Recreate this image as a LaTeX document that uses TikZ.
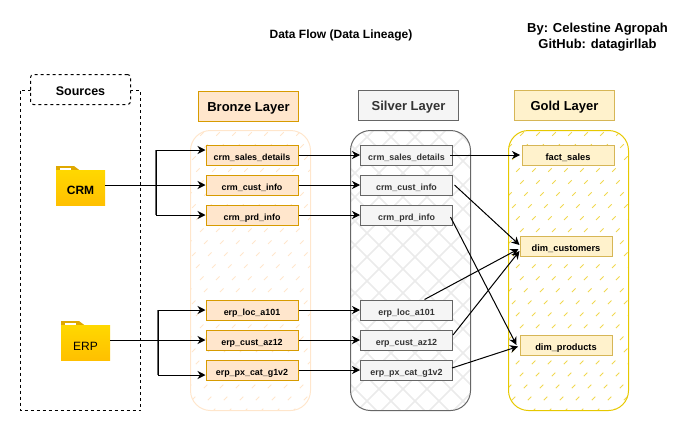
\documentclass[tikz,border=0pt]{standalone}
\usepackage{fontspec}
\setmainfont{Liberation Sans}
\usetikzlibrary{arrows.meta,calc}
\definecolor{brF}{HTML}{FFE6CC}\definecolor{brD}{HTML}{D79B00}
\definecolor{siF}{HTML}{F5F5F5}\definecolor{siD}{HTML}{666666}
\definecolor{goF}{HTML}{FFF2CC}\definecolor{goD}{HTML}{D6B656}
\definecolor{goC}{HTML}{E6C800}\definecolor{goH}{HTML}{F0D850}
\definecolor{siH}{HTML}{EBEBEB}\definecolor{siT}{HTML}{333333}
\definecolor{foT}{HTML}{FFD800}\definecolor{foB}{HTML}{FFC000}\definecolor{foD}{HTML}{DFA800}
\tikzset{
  every node/.style={font=\bfseries},
  lane/.style={rectangle,minimum width=120pt,minimum height=280pt,inner sep=0pt},
  head/.style={rectangle,draw,line width=1pt,minimum width=100pt,minimum height=30pt,inner sep=0pt,text height=10pt,text depth=0pt,font=\bfseries\fontsize{13}{15}\selectfont},
  tbl/.style={rectangle,draw,line width=1pt,minimum width=92pt,minimum height=20pt,inner sep=0pt,text height=10pt,text depth=0pt,font=\bfseries\fontsize{8.9}{10}\selectfont},
  bro/.style={tbl,fill=brF,draw=brD,text=black},
  sil/.style={tbl,fill=siF,draw=siD,text=siT},
  gol/.style={tbl,fill=goF,draw=goD,text=black,font=\bfseries\fontsize{9.3}{10}\selectfont},
  arr/.style={line width=1pt,-{Stealth[length=8pt,width=8pt,inset=2.5pt]}},
  folder/.style={rectangle,inner sep=0pt,minimum width=49pt,minimum height=35pt,top color=foT,bottom color=foB,text height=13pt,text depth=0pt,font=\bfseries\fontsize{12}{15}\selectfont},
}
\begin{document}
\begin{tikzpicture}[x=1pt,y=-1pt]
\useasboundingbox (0,0) rectangle (698,431);
\node[font=\bfseries\fontsize{12}{14}\selectfont] (title) at (341,35.5) {Data Flow (Data Lineage)};
\node[align=center,font=\bfseries\fontsize{13}{16.5}\selectfont] (by) at (597.5,37) {By: Celestine Agropah\\GitHub: datagirllab};
% Sources
\draw[line width=1pt,dash pattern=on 3pt off 3pt] (20.5,90.5) rectangle (140.5,410.5);
\node[rectangle,rounded corners=3pt,draw,line width=1pt,dash pattern=on 3pt off 3pt,fill=white,minimum width=100pt,minimum height=30pt,inner sep=0pt,text height=11pt,text depth=0pt,font=\bfseries\fontsize{12.5}{14}\selectfont] (src) at (80.5,89.5) {Sources};
% Lanes
\node[lane] (bl) at (250.5,270.5) {};
\begin{scope}
\clip[rounded corners=20pt] (190.5,130.5) rectangle (310.5,410.5);
\foreach \c in {320,336,...,740} \draw[brF,line width=1pt,dash pattern=on 5pt off 12pt] (\c,0)--(\c-450,450);
\end{scope}
\draw[brF,line width=1pt,rounded corners=20pt] (190.5,130.5) rectangle (310.5,410.5);
\node[lane] (sl) at (410.5,270.5) {};
\begin{scope}
\clip[rounded corners=20pt] (350.5,130.5) rectangle (470.5,410.5);
\foreach \c in {480,504,...,900} \draw[siH,line width=1.6pt] (\c,0)--(\c-450,450);
\foreach \c in {-130,-106,...,340} \draw[siH,line width=1.6pt] (\c,0)--(\c+450,450);
\end{scope}
\draw[siD,line width=1pt,rounded corners=20pt] (350.5,130.5) rectangle (470.5,410.5);
\node[lane] (gl) at (568.5,270.5) {};
\begin{scope}
\clip[rounded corners=20pt] (508.5,130.5) rectangle (628.5,410.5);
\foreach \c in {640,656,...,1060} \draw[goH,line width=1pt,dash pattern=on 5pt off 12pt] (\c,0)--(\c-450,450);
\end{scope}
\draw[goC,line width=1pt,rounded corners=20pt] (508.5,130.5) rectangle (628.5,410.5);
% Headers
\node[head,fill=brF,draw=brD] (hb) at (248.5,106) {Bronze Layer};
\node[head,fill=siF,draw=siD,text=siT] (hs) at (408.5,105.5) {Silver Layer};
\node[head,fill=goF,draw=goD] (hg) at (564.5,105.5) {Gold Layer};
% Folders
\fill[foD] (56,170.5) -- (56,166) -- (74,166) -- (80,170.5) -- cycle;
\fill[white] (60,167.5) rectangle (71,169.5);
\node[folder] (crm) at (80.5,187.5) {CRM};
\fill[foD] (61,325.5) -- (61,321) -- (79,321) -- (85,325.5) -- cycle;
\fill[white] (65,322.5) rectangle (76,324.5);
\node[folder,font=\fontsize{12}{15}\selectfont,text height=15pt] (erp) at (85.5,342.5) {ERP};
% Tables
\node[bro] (b1) at (252,155) {crm\_sales\_details};
\node[bro] (b2) at (252,185) {crm\_cust\_info};
\node[bro] (b3) at (252,215) {crm\_prd\_info};
\node[bro] (b4) at (252,310) {erp\_loc\_a101};
\node[bro] (b5) at (252,340) {erp\_cust\_az12};
\node[bro] (b6) at (252,370) {erp\_px\_cat\_g1v2};
\node[sil] (s1) at (406.5,155) {crm\_sales\_details};
\node[sil] (s2) at (406.5,185) {crm\_cust\_info};
\node[sil] (s3) at (406.5,215) {crm\_prd\_info};
\node[sil] (s4) at (406.5,310) {erp\_loc\_a101};
\node[sil] (s5) at (406.5,340) {erp\_cust\_az12};
\node[sil] (s6) at (406.5,370) {erp\_px\_cat\_g1v2};
\node[gol] (f) at (568,155) {fact\_sales};
\node[gol] (dc) at (566,246) {dim\_customers};
\node[gol] (dp) at (566,345) {dim\_products};
% Source connectors
\coordinate (t1) at (156,185);
\coordinate (t2) at (158,340);
\draw[siD,line width=1.4pt] (155.6,150) -- (155.6,215);
\draw[siD,line width=1.4pt] (157.6,310) -- (157.6,375);
\draw[arr] (crm.east |- b2.west) -- (b2.west);
\draw[arr] (t1) |- ($(b1.west)+(0,-5)$);
\draw[arr] (t1) |- (b3.west);
\draw[arr] (erp.east |- b5.west) -- (b5.west);
\draw[arr] (t2) |- (b4.west);
\draw[arr] (t2) |- ($(b6.west)+(0,5)$);
% Bronze to silver
\foreach \i in {1,...,6} \draw[arr] (b\i.east) -- (s\i.west);
% Silver to gold
\draw[arr,shorten >=1.5pt] ($(s1.east)+(-3,0)$) -- (f.west);
\draw[arr] ($(s2.east)+(1.5,0)$) -- ($(dc.west)+(0,-1)$);
\draw[arr] ($(s3.east)+(-2.5,2)$) -- ($(dp.west)+(-3,0)$);
\draw[arr] ($(s4.north)+(18,0)$) -- ($(dc.west)+(-1,3)$);
\draw[arr] ($(s5.east)+(0,-5)$) -- ($(dc.west)+(0,5)$);
\draw[arr] ($(s6.east)+(-1,-2)$) -- ($(dp.west)+(-1.5,1.5)$);
\end{tikzpicture}
\end{document}
